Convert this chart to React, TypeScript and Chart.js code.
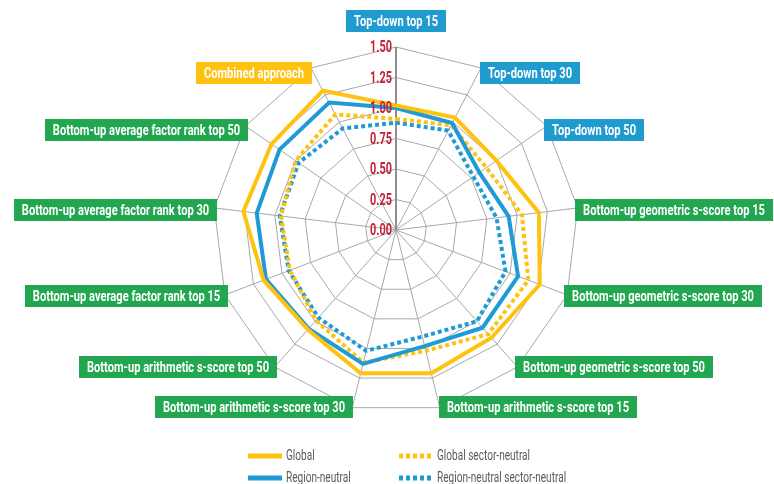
import React, { useEffect, useRef } from 'react';
import { Chart, registerables } from 'chart.js';

Chart.register(...registerables);

const FONT = "Roboto, 'DejaVu Sans', sans-serif";

const categories = [
  'Top-down top 15',
  'Top-down top 30',
  'Top-down top 50',
  'Bottom-up geometric s-score top 15',
  'Bottom-up geometric s-score top 30',
  'Bottom-up geometric s-score top 50',
  'Bottom-up arithmetic s-score top 15',
  'Bottom-up arithmetic s-score top 30',
  'Bottom-up arithmetic s-score top 50',
  'Bottom-up average factor rank top 15',
  'Bottom-up average factor rank top 30',
  'Bottom-up average factor rank top 50',
  'Combined approach',
];

const categoryGroups = [
  'top-down', 'top-down', 'top-down',
  'bottom-up', 'bottom-up', 'bottom-up',
  'bottom-up', 'bottom-up', 'bottom-up',
  'bottom-up', 'bottom-up', 'bottom-up',
  'combined',
];

const seriesNames = ['Global', 'Region-neutral', 'Global sector-neutral', 'Region-neutral sector-neutral'];

const globalValues = [1.02, 1.04, 1.0, 1.18, 1.26, 1.18, 1.21, 1.21, 1.09, 1.16, 1.26, 1.24, 1.29];
const regionNeutralValues = [1.0, 0.99, 0.83, 0.93, 1.07, 1.07, 0.98, 1.13, 1.08, 1.14, 1.15, 1.16, 1.18];
const globalSectorNeutralValues = [0.91, 0.97, 0.9, 1.04, 1.16, 1.14, 1.02, 1.12, 0.99, 0.93, 0.95, 1.0, 1.07];
const regionSectorNeutralValues = [0.88, 0.92, 0.77, 0.83, 0.96, 1.0, 0.9, 1.02, 0.96, 0.94, 0.96, 0.97, 0.94];

const axisMin = 0;
const axisMax = 1.5;
const axisStep = 0.25;

const YELLOW = '#FFC20E';
const BLUE = '#1E9AD6';
const GREEN = '#22A64F';
const TICK_RED = '#C4203A';

const groupColors: Record<string, string> = {
  'top-down': '#1F9BD0',
  'bottom-up': GREEN,
  combined: YELLOW,
};

// draws text squeezed horizontally to imitate a condensed face
function condensedText(ctx: CanvasRenderingContext2D, text: string, x: number, y: number, align: CanvasTextAlign, sx: number) {
  ctx.save();
  ctx.translate(x, y);
  ctx.scale(sx, 1);
  ctx.textAlign = align;
  ctx.fillText(text, 0, 0);
  ctx.restore();
}

const LABEL_SX = 0.74;
const TICK_SX = 0.68;
const LEGEND_SX = 0.72;

const tickPlugin = {
  id: 'leftTicks',
  afterDraw(chart: any) {
    const scale = chart.scales.r;
    const ctx = chart.ctx;
    ctx.save();
    ctx.font = `bold 16px ${FONT}`;
    ctx.fillStyle = TICK_RED;
    ctx.textBaseline = 'middle';
    scale.ticks.forEach((t: any) => {
      const d = scale.getDistanceFromCenterForValue(t.value);
      condensedText(ctx, Number(t.value).toFixed(2), scale.xCenter - 4, scale.yCenter - d + 1, 'right', TICK_SX);
    });
    ctx.restore();
  },
};

const boxLabelPlugin = {
  id: 'boxLabels',
  afterDraw(chart: any) {
    const scale = chart.scales.r;
    const ctx = chart.ctx;
    const labels: string[] = chart.data.labels;
    const n = labels.length;
    ctx.save();
    ctx.font = `bold 15px ${FONT}`;
    ctx.textBaseline = 'middle';
    labels.forEach((label, i) => {
      const angleDeg = (360 / n) * i;
      const onTop = angleDeg === 0;
      const pos = scale.getPointPosition(i, scale.drawingArea + (onTop ? 15 : -3));
      const tw = ctx.measureText(label).width * LABEL_SX;
      const bw = Math.round(tw + 16);
      const bh = 22;
      let left: number;
      let top: number;
      if (onTop) {
        left = pos.x - bw / 2;
        top = pos.y - bh;
      } else if (angleDeg < 180) {
        left = pos.x;
        top = pos.y - bh / 2 + 2;
      } else {
        left = pos.x - bw;
        top = pos.y - bh / 2 + 2;
      }
      left = Math.round(left);
      top = Math.round(top);
      ctx.fillStyle = groupColors[categoryGroups[i]];
      ctx.fillRect(left, top, bw, bh);
      ctx.fillStyle = '#FFFFFF';
      condensedText(ctx, label, left + bw / 2, top + bh / 2 + 1, 'center', LABEL_SX);
    });
    ctx.restore();
  },
};

const legendPlugin = {
  id: 'gridLegend',
  afterDraw(chart: any) {
    const ctx = chart.ctx;
    const ds = chart.data.datasets;
    const x0 = Math.round(chart.width / 2 - 139);
    const colW = 151;
    const rows = [456, 478];
    const cells = [
      { d: 0, col: 0, row: 0 },
      { d: 2, col: 1, row: 0 },
      { d: 1, col: 0, row: 1 },
      { d: 3, col: 1, row: 1 },
    ];
    ctx.save();
    ctx.font = `14px ${FONT}`;
    ctx.textBaseline = 'middle';
    cells.forEach(({ d, col, row }) => {
      const dataset = ds[d];
      const x = x0 + col * colW;
      const y = rows[row];
      ctx.strokeStyle = dataset.borderColor;
      ctx.lineWidth = 5;
      ctx.lineCap = 'butt';
      ctx.setLineDash(dataset.borderDash || []);
      ctx.beginPath();
      ctx.moveTo(x, y);
      ctx.lineTo(x + 34, y);
      ctx.stroke();
      ctx.setLineDash([]);
      ctx.fillStyle = '#5A5A5A';
      condensedText(ctx, dataset.label, x + 38, y, 'left', LEGEND_SX);
    });
    ctx.restore();
  },
};

export default function App() {
  const canvasRef = useRef<HTMLCanvasElement | null>(null);

  useEffect(() => {
    if (!canvasRef.current) return;
    Chart.defaults.font.family = FONT;
    const chart = new Chart(canvasRef.current, {
      type: 'radar',
      data: {
        labels: categories,
        datasets: [
          {
            label: seriesNames[0],
            data: globalValues,
            borderColor: YELLOW,
            backgroundColor: 'transparent',
            borderWidth: 4,
            pointRadius: 0,
            fill: false,
          },
          {
            label: seriesNames[1],
            data: regionNeutralValues,
            borderColor: BLUE,
            backgroundColor: 'transparent',
            borderWidth: 4,
            pointRadius: 0,
            fill: false,
          },
          {
            label: seriesNames[2],
            data: globalSectorNeutralValues,
            borderColor: YELLOW,
            backgroundColor: 'transparent',
            borderWidth: 4,
            borderDash: [4, 3],
            pointRadius: 0,
            fill: false,
          },
          {
            label: seriesNames[3],
            data: regionSectorNeutralValues,
            borderColor: BLUE,
            backgroundColor: 'transparent',
            borderWidth: 4,
            borderDash: [4, 3],
            pointRadius: 0,
            fill: false,
          },
        ],
      },
      options: {
        animation: false,
        responsive: true,
        maintainAspectRatio: false,
        layout: { padding: { top: 47, bottom: 71, left: 18, right: 0 } },
        plugins: {
          legend: { display: false },
          tooltip: { enabled: false },
        },
        elements: { line: { tension: 0, borderJoinStyle: 'miter' } },
        scales: {
          r: {
            min: axisMin,
            max: axisMax,
            beginAtZero: true,
            ticks: { stepSize: axisStep, display: false },
            grid: { color: '#A8A8A8', lineWidth: 1, circular: false },
            angleLines: {
              color: (c: any) => (c.index === 0 ? '#8E8E8E' : '#A8A8A8'),
              lineWidth: (c: any) => (c.index === 0 ? 2 : 1),
            },
            pointLabels: { display: false },
          },
        },
      },
      plugins: [tickPlugin, boxLabelPlugin, legendPlugin],
    });
    return () => chart.destroy();
  }, []);

  return (
    <div style={{ position: 'fixed', left: 0, top: 0, width: 774, height: 484, background: '#fff' }}>
      <canvas ref={canvasRef} />
    </div>
  );
}
